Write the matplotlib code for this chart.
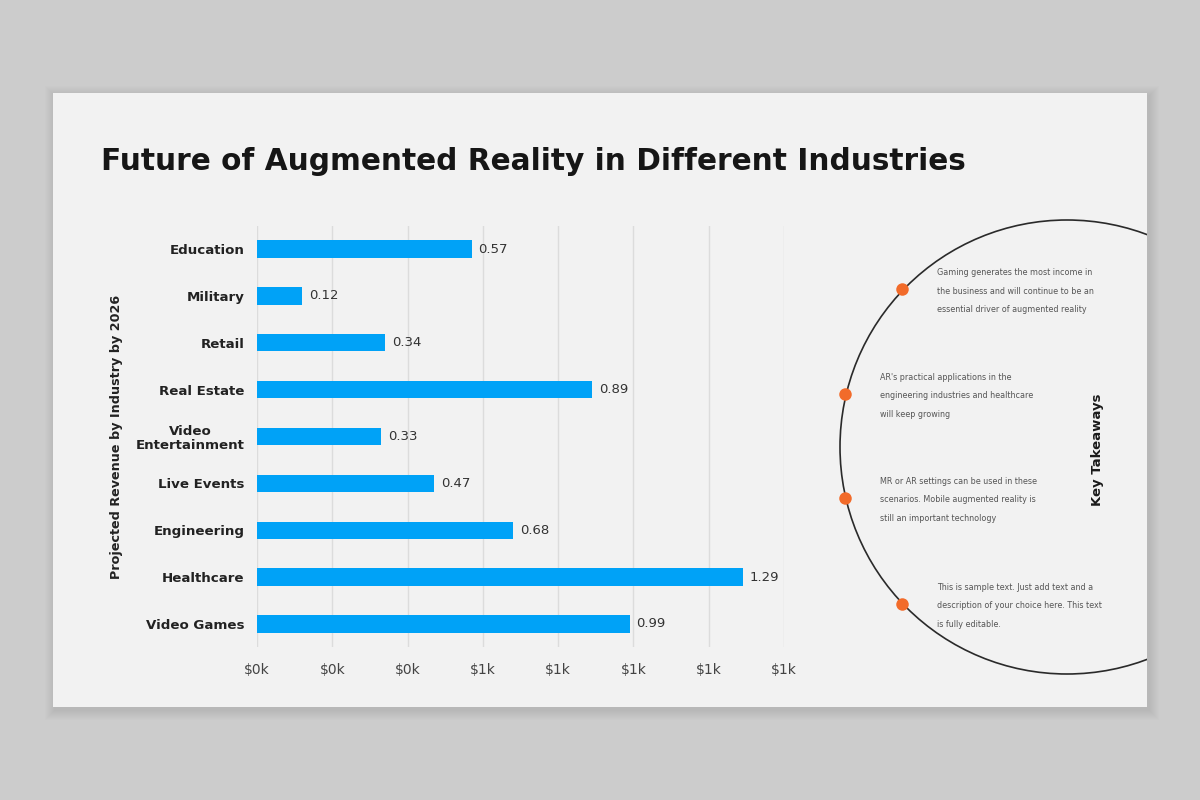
import matplotlib.pyplot as plt
from matplotlib.patches import Rectangle, Circle
from matplotlib.ticker import FuncFormatter

# ------------------------------------------------------------------
# Data
# ------------------------------------------------------------------
industries = ["Education", "Military", "Retail", "Real Estate",
              "Video\nEntertainment", "Live Events", "Engineering",
              "Healthcare", "Video Games"]
revenue = [0.57, 0.12, 0.34, 0.89, 0.33, 0.47, 0.68, 1.29, 0.99]
x_ticks = [0, 0.2, 0.4, 0.6, 0.8, 1.0, 1.2, 1.4]

takeaways = [
    "Gaming generates the most income in\nthe business and will continue to be an\nessential driver of augmented reality",
    "AR's practical applications in the\nengineering industries and healthcare\nwill keep growing",
    "MR or AR settings can be used in these\nscenarios. Mobile augmented reality is\nstill an important technology",
    "This is sample text. Just add text and a\ndescription of your choice here. This text\nis fully editable.",
]

title = "Future of Augmented Reality in Different Industries"

BAR_COLOR = "#00a2f7"
DOT_COLOR = "#f26b2a"

plt.rcParams["font.family"] = ["DejaVu Sans"]

W, H = 1200, 800
fig = plt.figure(figsize=(12, 8), dpi=100, facecolor="#cccccc")

# overlay axes in pixel units for the slide decoration
deco = fig.add_axes([0, 0, 1, 1])
deco.set_xlim(0, W)
deco.set_ylim(H, 0)
deco.axis("off")
deco.set_zorder(0)

# slide with soft shadow
for i in range(1, 11):
    deco.add_patch(Rectangle((53 - i + 2, 93 - i + 3), 1094 + 2 * i, 614 + 2 * i,
                             facecolor="black", alpha=0.007, lw=0))
slide = Rectangle((53, 93), 1094, 614, facecolor="#f2f2f2", lw=0)
deco.add_patch(slide)

# title
deco.text(101, 162, title, fontsize=21.3, fontweight="bold", color="#161616",
          va="center", ha="left")

# key takeaways circle
circ = Circle((1067, 447), 227, facecolor="none", edgecolor="#2a2a2a", lw=1.2)
deco.add_patch(circ)
circ.set_clip_path(slide)

dot_pos = [(902, 289), (845, 394), (845, 498), (902, 604)]
text_x = [937, 880, 880, 937]
for (dx, dy), tx, txt in zip(dot_pos, text_x, takeaways):
    deco.plot(dx, dy, "o", ms=9, color=DOT_COLOR, mec="none")
    deco.text(tx, dy + 2, txt, fontsize=5.75, color="#555555", ha="left",
              va="center", linespacing=2.3)

deco.text(1097, 450, "Key Takeaways", rotation=90, fontsize=9.5,
          fontweight="bold", color="#1a1a1a", ha="center", va="center")

# ------------------------------------------------------------------
# Bar chart
# ------------------------------------------------------------------
ax = fig.add_axes([257 / W, 1 - 647.4 / H, 527 / W, 421.8 / H])
ax.set_zorder(1)
ax.patch.set_visible(False)

pos = list(range(len(industries)))
bars = ax.barh(pos, revenue, height=0.37, color=BAR_COLOR, zorder=3)
ax.set_ylim(len(industries) - 0.5, -0.5)
ax.set_xlim(0, 1.4)
ax.set_xticks(x_ticks)
ax.xaxis.set_major_formatter(FuncFormatter(lambda v, p: f"${v:.0f}k"))
ax.set_yticks(pos)
ax.set_yticklabels(industries, fontweight="bold", fontsize=9.6, color="#222222",
                   linespacing=1.1, multialignment="center")
ax.tick_params(axis="y", length=0, pad=9)
ax.tick_params(axis="x", length=0, pad=11, labelsize=10, labelcolor="#444444")
ax.grid(axis="x", color="#dcdcdc", lw=1, zorder=0)
for s in ax.spines.values():
    s.set_visible(False)

for b, v in zip(bars, revenue):
    ax.annotate(f"{v:.2f}", (b.get_width(), b.get_y() + b.get_height() / 2),
                xytext=(5, 0), textcoords="offset points", va="center",
                ha="left", fontsize=9.5, color="#333333")

ax.set_ylabel("Projected Revenue by Industry by 2026", fontsize=9.2,
              fontweight="bold", color="#222222")
ax.yaxis.set_label_coords((123 - 257) / 527, 0.5)

fig.savefig("out.png", dpi=100, facecolor=fig.get_facecolor())
